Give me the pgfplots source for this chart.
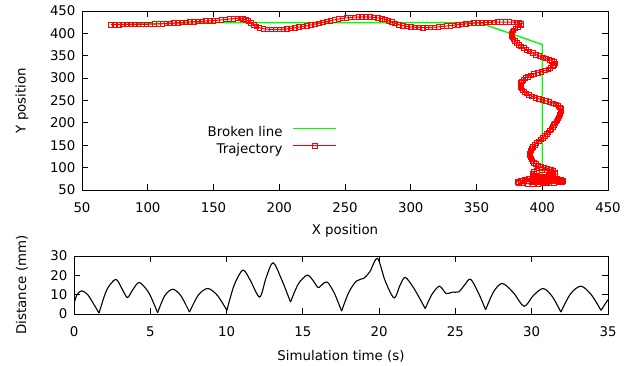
\documentclass[border=0pt]{standalone}
\usepackage{fontspec}
\setmainfont{DejaVu Sans}
\usepackage{pgfplots}
\usepackage{pgfplotstable}
\pgfplotsset{compat=1.18}
\definecolor{gpgreen}{RGB}{0,255,0}
\definecolor{gpred}{RGB}{255,0,0}
\pgfplotstableread{
x y
72 419.5
75 419.6
78 419.7
81 419.8
84 419.9
87 420
90 420
93 420
96 420.1
99 420.3
102 420.5
105 420.8
108 421.1
111 421.5
114 422
117 422.6
120 423.2
123 423.8
126 424.4
129 425
132 425.5
135 426
138 426.5
141 427
144 427.5
147 428
150 428.5
153 429.3
156 430.2
159 431
162 432
165 432.8
168 433.4
170.5 433.5
172.5 432.5
174.5 430.5
176.5 427.5
178.5 423.5
180.5 419
182.5 415.5
185 412.5
188 410.5
191 409.3
194 408.8
197 408.7
200 408.9
203 409.4
206 410.2
209 411.2
212 412.5
215 414
218 415.5
221 417
224 418.8
227 420.6
230 422.5
233 424.5
236 426.5
239 428.5
242 430.3
245 432
248 433.5
251 434.7
254 435.6
257 436.2
260 436.6
263 436.8
266 436.8
269 436.5
272 435.8
275 434.7
278 433
280.5 431
283 428.5
285.5 425.5
288 422.5
291 419.5
294 417.3
297 415.6
300 414.4
303 413.6
306 413.2
309 413
312 413.1
315 413.4
318 413.9
321 414.6
324 415.4
327 416.3
330 417.3
333 418.3
336 419.3
339 420.3
342 421.2
345 422.1
348 422.9
351 423.6
354 424.1
357 424.5
360 424.8
363 425
366 425.1
369 425.2
372 425.2
375 425.1
378 424.9
380.5 424.5
382.5 423.5
383.8 421.5
383.5 418
381.5 414.5
379.5 411
378 407
377.2 403
376.8 399
376.8 395
377.2 391
378 387
379.2 383
380.5 379
382 375
383.8 371
385.8 367
388 363
390.3 359.5
392.7 356
395.2 352.5
397.8 349.5
400.3 346.5
402.8 344
405.3 341.5
407.5 339
409 336
409.5 333
409 330
408 327
406.3 323
404.5 320
402 317
399.3 314.5
396.5 312
393.8 309.5
391.2 306.5
389 303.5
387 300
385.5 296.5
384.4 293
383.7 289
383.4 285
383.5 281
384 277
385 273
386.3 269.5
388 266
390 262.5
392.3 259.5
394.8 256.5
397.3 254
400 251.5
402.8 249
405.5 246.5
408.2 244
410.5 241.5
412.3 238.5
413.5 235
414 231
414 227
413.8 223
413.5 219
413 215
412.3 211
411.5 207
410.7 203
409.8 199
408.9 195
407.9 191
406.9 187
405.8 183
404.6 179
403.3 175
401.9 171
400.4 167
398.8 163
397.2 159
395.6 155
394.2 151
393 147
392 143
391.3 139
390.8 135
390.6 131
390.7 127
391 123
391.6 119
392.5 115
393.7 111
395 108
396.8 105
399 102
401.5 100
404 98
406.5 95.5
408.5 92.5
409.5 89
409.5 85.5
408 82.5
405.5 80
402 78.5
398 77.5
394 76.5
390 75
386.5 73
383.5 71
381.5 68.5
382 66
385 64.5
389 64
393 64
397 64.3
401 64.8
405 65.3
409 66
412.5 67
415 68.5
415.5 70.5
414 72.5
411 74.5
407 76
403 77
399 78
395.5 80
393 83
392.5 86.5
393.5 90
396 93
399.5 94.5
403 94
406 91.5
407.5 88
407 84.5
404.5 81.5
401 80
397 79
393 78
389.5 76
387 73.5
386.5 71
388.5 69
392 68
396 67.5
400 67.5
404 68
408 69
411 70.5
411.5 72.5
409 74
405 75
401 75.5
397 75
394 73.5
393 71.5
395 70
399 69.5
403 70
406 71.5
405 73
401 73.5
398 72.5
400 71.5
}\traj
\begin{document}
\begin{tikzpicture}
\useasboundingbox (0,0) rectangle (636bp,366bp);
\pgfplotsset{every axis/.append style={
  scale only axis,
  font=\fontsize{13.4}{16}\selectfont,
  /pgf/number format/assume math mode=true,
  axis line style={black, line width=0.9bp},
  tick align=inside,
  major tick length=6bp,
  tick style={black, line width=0.8bp},
  xtick pos=both, ytick pos=both,
  xticklabel style={yshift=-9bp},
  yticklabel style={xshift=-3bp},
},
dist/.style={black, line width=1.1bp, smooth, no markers, solid}}
\begin{axis}[
  at={(82bp,176bp)}, anchor=south west,
  width=526bp, height=179bp,
  xmin=50, xmax=450, ymin=50, ymax=450,
  xtick={50,100,...,450}, ytick={50,100,...,450},
  xlabel={X position}, ylabel={Y position},
  xlabel style={at={(axis description cs:0.5,-0.23)}, anchor=center},
  ylabel style={at={(axis description cs:-0.114,0.5)}, anchor=center},
  legend plot pos=right,
  legend cell align=right,
  legend style={draw=none, fill=none, at={(axis description cs:0.485,0.271)}, anchor=east,
    inner sep=0pt, row sep=3.6bp,
    nodes={inner sep=0pt, text height=10bp, text depth=3bp},
    /tikz/every odd column/.append style={column sep=10bp}},
  legend image code/.code={\draw[#1] (0bp,4.5bp) -- (43bp,4.5bp);},
]
\addplot[draw=gpgreen, line width=1.4bp] coordinates {
(72,420) (150,424) (352,424) (400,375) (400,72)
};
\addlegendentry{Broken line}
\addplot[gpred, line width=1bp, no markers, forget plot] table {\traj};
\addplot[gpred, only marks, mark=square, mark size=2.3bp, mark options={solid, line width=0.7bp},
  legend image code/.code={\draw[gpred, line width=1bp] (0bp,4.5bp) -- (43bp,4.5bp);
    \draw[gpred, line width=0.7bp] (19.2bp,2.2bp) rectangle (23.8bp,6.8bp);}] table {\traj};
\addlegendentry{Trajectory}
\end{axis}
\begin{axis}[
  at={(74bp,52bp)}, anchor=south west,
  width=534bp, height=58bp,
  xmin=0, xmax=35, ymin=0, ymax=30,
  xtick={0,5,...,35}, ytick={0,10,20,30},
  xlabel={Simulation time (s)}, ylabel={Distance (mm)},
  xlabel style={at={(axis description cs:0.5,-0.73)}, anchor=center},
  ylabel style={at={(axis description cs:-0.0974,0.5)}, anchor=center},
]
\addplot[dist] coordinates {(0,5.5) (0.2,10) (0.5,12) (0.9,10) (1.3,5) (1.64,0.5)};
\addplot[dist] coordinates {(1.64,0.5) (2.15,12.5) (2.74,17.9) (3.15,13) (3.5,8.5) (3.85,12.5) (4.28,16.3) (4.9,11) (5.48,0.7)};
\addplot[dist] coordinates {(5.48,0.7) (5.95,9.5) (6.47,12.8) (7.0,9.5) (7.57,1.0)};
\addplot[dist] coordinates {(7.57,1) (8.15,9.8) (8.77,13.2) (9.4,9.6) (10.02,1.9)};
\addplot[dist] coordinates {(10.02,1.9) (10.5,15) (11.07,22.7) (11.55,17.5) (12.17,8.8) (12.6,19) (13.05,26.5) (13.6,18) (14.19,6.2)};
\addplot[dist] coordinates {(14.19,6.2) (14.7,15.5) (15.28,20.1) (15.65,17.5) (16.0,13.7) (16.3,15.5) (16.6,16.5) (17.05,11) (17.54,1.5)};
\addplot[dist] coordinates {(17.54,1.5) (18.0,11) (18.5,17) (19.0,18.5) (19.4,22) (19.89,28.8) (20.4,17) (20.98,8.3) (21.35,14.5) (21.71,18.9) (22.3,13) (23.02,2.8)};
\addplot[dist] coordinates {(23.02,2.8) (23.45,10) (23.95,14.4) (24.39,10.6) (24.8,11.3) (25.22,11.5) (25.6,15) (25.99,18) (26.5,11) (26.98,2.2)};
\addplot[dist] coordinates {(26.98,2.2) (27.5,11.5) (28.07,15.8) (28.8,11) (29.5,4) (30.1,9.5) (30.75,13.2) (31.35,9) (31.91,1.0)};
\addplot[dist] coordinates {(31.91,1) (32.55,10.5) (33.23,14.4) (33.9,10) (34.54,1.9)};
\addplot[dist] coordinates {(34.54,1.9) (35,7.4)};
\end{axis}
\end{tikzpicture}
\end{document}
